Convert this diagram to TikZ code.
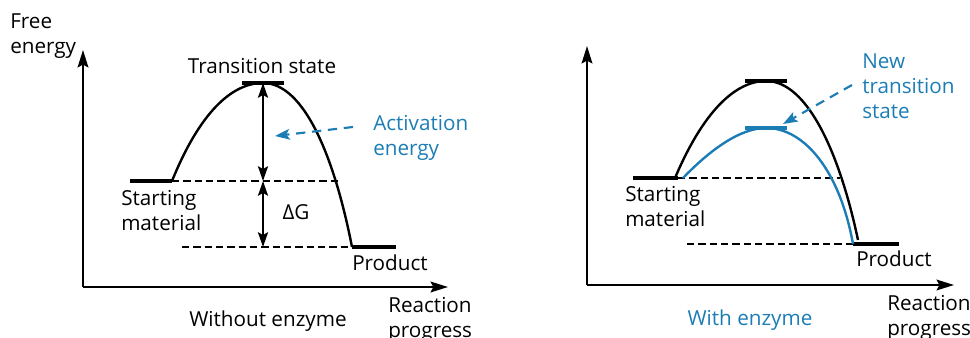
\documentclass[tikz,border=0pt]{standalone}
\usepackage{fontspec}
\setmainfont{Open Sans}
\usetikzlibrary{arrows.meta}
\definecolor{enzblue}{HTML}{1C7DB5}

\tikzset{
  axis/.style={line width=1.8pt,-{Stealth[length=13pt,width=8pt,inset=2pt]}},
  level/.style={line width=2.5pt},
  guide/.style={line width=1.7pt,dash pattern=on 5.5pt off 3pt},
  curve/.style={line width=1.8pt},
  gap/.style={line width=1.6pt,{Stealth[length=11pt,width=7.5pt,inset=2pt]}-{Stealth[length=11pt,width=7.5pt,inset=2pt]}},
  pointer/.style={enzblue,line width=1.6pt,dash pattern=on 7pt off 5pt,-{Stealth[length=11pt,width=8pt,inset=2.5pt]}},
  lbl/.style={font=\fontsize{15.5}{19}\selectfont,inner sep=0pt},
  mlbl/.style={lbl,align=left,anchor=north west},
}

\begin{document}
\begin{tikzpicture}[x=0.75pt,y=-0.75pt]
\useasboundingbox (0,0) rectangle (970,338);

% without enzyme
\coordinate (O1) at (83,287);
\coordinate (Y1) at (83,50);
\coordinate (X1) at (448,287);
\coordinate (S1a) at (130,181);
\coordinate (S1b) at (172,181);
\coordinate (T1a) at (242,83);
\coordinate (T1) at (263,83);
\coordinate (T1b) at (284,83);
\coordinate (P1a) at (352,247);
\coordinate (P1b) at (396,247);
\coordinate (D1) at (338,181);
\coordinate (E1) at (182,247);
\coordinate (M1) at (263,181);
\coordinate (B1) at (263,247);
\coordinate (A1) at (353,127);
\coordinate (A1t) at (275,136);

\draw[axis] (O1) -- (Y1);
\draw[axis] (O1) -- (X1);
\draw[guide] (S1b) -- (D1);
\draw[guide] (E1) -- (P1a);
\draw[level] (S1a) -- (S1b);
\draw[level] (T1a) -- (T1b);
\draw[level] (P1a) -- (P1b);
\draw[curve] (S1b) .. controls (200,112) and (232,83) .. (T1)
  .. controls (305,83) and (335,160) .. (P1a);
\draw[gap] (T1) -- (M1);
\draw[gap] (M1) -- (B1);
\draw[pointer] (A1) -- (A1t);

\node[mlbl] (fe) at (10,13) {Free\\energy};
\node[lbl,anchor=base] (ts1) at (262,74) {Transition state};
\node[mlbl,text=enzblue] (act) at (373,115) {Activation\\energy};
\node[lbl,anchor=base] (dg) at (296,220) {ΔG};
\node[mlbl] (sm1) at (121,190) {Starting\\material};
\node[lbl,anchor=base west] (pr1) at (352,271) {Product};
\node[mlbl] (rp1) at (388,297) {Reaction\\progress};
\node[lbl,anchor=base] (wo) at (268,326) {Without enzyme};

% with enzyme
\coordinate (O2) at (587,285);
\coordinate (Y2) at (587,46);
\coordinate (X2) at (954,285);
\coordinate (S2a) at (633,178);
\coordinate (S2b) at (678,178);
\coordinate (T2a) at (745,81);
\coordinate (T2) at (766,81);
\coordinate (T2b) at (787,81);
\coordinate (N2a) at (745,128);
\coordinate (N2) at (766,128);
\coordinate (N2b) at (787,128);
\coordinate (P2a) at (853,244);
\coordinate (P2b) at (899,244);
\coordinate (Q2) at (858,240);
\coordinate (D2) at (840,178);
\coordinate (E2) at (687,244);
\coordinate (A2) at (852,85);
\coordinate (A2t) at (783,124);

\draw[axis] (O2) -- (Y2);
\draw[axis] (O2) -- (X2);
\draw[guide] (S2b) -- (D2);
\draw[guide] (E2) -- (P2a);
\draw[level] (S2a) -- (S2b);
\draw[level] (T2a) -- (T2b);
\draw[level,enzblue] (N2a) -- (N2b);
\draw[level] (P2a) -- (P2b);
\draw[curve] (675,178) .. controls (703,112) and (735,81) .. (T2)
  .. controls (808,81) and (840,155) .. (Q2);
\draw[curve,enzblue] (683,178) .. controls (710,150) and (740,128) .. (N2)
  .. controls (805,128) and (840,172) .. (P2a);
\draw[pointer] (A2) -- (A2t);

\node[mlbl,text=enzblue] (nts) at (862,53) {New\\transition\\state};
\node[mlbl] (sm2) at (625,186) {Starting\\material};
\node[lbl,anchor=base west] (pr2) at (856,267) {Product};
\node[mlbl] (rp2) at (887,295) {Reaction\\progress};
\node[lbl,anchor=base,text=enzblue] (we) at (750,325) {With enzyme};
\end{tikzpicture}
\end{document}
